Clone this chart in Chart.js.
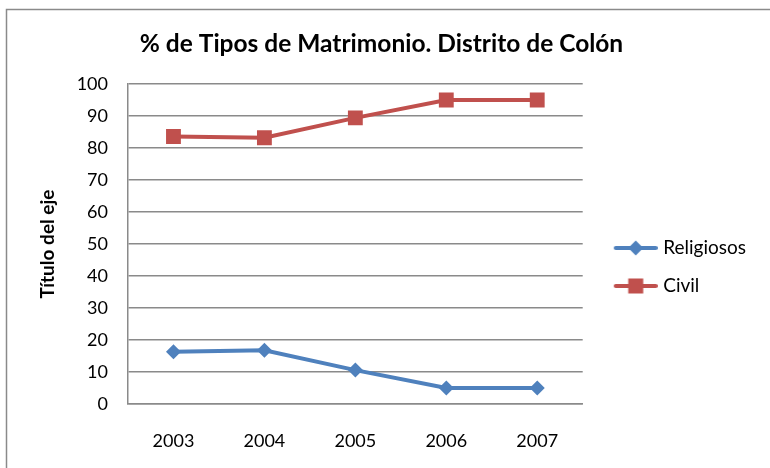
<!DOCTYPE html>
<html>
<head>
<meta charset="utf-8">
<script src="https://cdn.jsdelivr.net/npm/chart.js@4.4.1/dist/chart.umd.min.js"></script>
<style>
  html, body { margin: 0; padding: 0; background: #fff; }
  #wrap { width: 770px; height: 468px; }
</style>
</head>
<body>
<div id="wrap"><canvas id="chart" width="770" height="468"></canvas></div>
<script>
// ---------------- DATA ----------------
const years = ["2003", "2004", "2005", "2006", "2007"];
const religiosos = [16.3, 16.8, 10.6, 5.0, 5.0];
const civil = [83.6, 83.2, 89.4, 95.0, 95.0];
const seriesNames = ["Religiosos", "Civil"];

const blue = "#4F81BD";
const red = "#C0504D";
const FONT = "Lato, 'Open Sans', sans-serif";

// legend sample: a short line with the marker in the middle
function legendSample(color, shape) {
  const c = document.createElement("canvas");
  c.width = 60;
  c.height = 20;
  const g = c.getContext("2d");
  g.strokeStyle = color;
  g.lineWidth = 4;
  g.lineCap = "round";
  g.beginPath();
  g.moveTo(18, 10);
  g.lineTo(58, 10);
  g.stroke();
  g.fillStyle = color;
  if (shape === "diamond") {
    g.beginPath();
    g.moveTo(38, 2.5);
    g.lineTo(45.5, 10);
    g.lineTo(38, 17.5);
    g.lineTo(30.5, 10);
    g.closePath();
    g.fill();
  } else {
    g.fillRect(30.5, 2.5, 15, 15);
  }
  return c;
}

// ---------------- FRAME ----------------
const framePlugin = {
  id: "frame",
  beforeDraw(chart) {
    const ctx = chart.ctx;
    ctx.save();
    ctx.fillStyle = "#fff";
    ctx.fillRect(0, 0, chart.width, chart.height);
    ctx.strokeStyle = "#8a8a8a";
    ctx.lineWidth = 1.5;
    ctx.strokeRect(6.5, 9.5, 900, 600);
    ctx.restore();
  }
};

// ---------------- CHART ----------------
new Chart(document.getElementById("chart"), {
  type: "line",
  data: {
    labels: years,
    datasets: [
      {
        label: seriesNames[0],
        data: religiosos,
        borderColor: blue,
        backgroundColor: blue,
        borderWidth: 4,
        pointStyle: "rectRot",
        pointRadius: 7.5,
        pointHoverRadius: 7.5,
        pointBorderWidth: 0,
        tension: 0,
        fill: false
      },
      {
        label: seriesNames[1],
        data: civil,
        borderColor: red,
        backgroundColor: red,
        borderWidth: 4,
        pointStyle: "rect",
        pointRadius: 10.5,
        pointHoverRadius: 10.5,
        pointBorderWidth: 0,
        tension: 0,
        fill: false
      }
    ]
  },
  options: {
    responsive: false,
    animation: false,
    layout: { padding: { left: 7, top: 10, bottom: 18, right: 14 } },
    plugins: {
      title: {
        display: true,
        text: "% de Tipos de Matrimonio. Distrito de Colón",
        color: "#000",
        font: { family: FONT, size: 24.5, weight: "bold" },
        padding: { top: 19.3, bottom: 25.3 }
      },
      legend: {
        position: "right",
        // empty title only pushes the items down to where they sit in the reference
        title: { display: true, text: "", font: { size: 10 }, padding: { top: 62, bottom: 0 } },
        labels: {
          usePointStyle: true,
          pointStyleWidth: 52,
          padding: 19,
          color: "#000",
          font: { family: FONT, size: 19 },
          generateLabels: (chart) => chart.data.datasets.map((ds, i) => ({
            text: ds.label,
            datasetIndex: i,
            fontColor: "#000",
            pointStyle: legendSample(ds.borderColor, i === 0 ? "diamond" : "square"),
            lineWidth: 0,
            hidden: false
          }))
        }
      },
      tooltip: { enabled: false }
    },
    scales: {
      x: {
        offset: true,
        grid: { display: false, drawTicks: false },
        border: { display: true, color: "#8a8a8a", width: 1.5 },
        ticks: { color: "#000", padding: 26, font: { family: FONT, size: 18 } },
        afterFit: (s) => { s.height = 46; }
      },
      y: {
        min: 0,
        max: 100,
        ticks: { stepSize: 10, color: "#000", padding: 20, font: { family: FONT, size: 18 } },
        grid: { color: "#8a8a8a", lineWidth: 1.5, drawTicks: false },
        border: { display: true, color: "#8a8a8a", width: 1.5 },
        title: {
          display: true,
          text: "Título del eje",
          color: "#000",
          font: { family: FONT, size: 19, weight: "bold" },
          padding: { top: 29.6 }
        },
        afterFit: (s) => { s.width = 121; }
      }
    }
  },
  plugins: [framePlugin]
});
</script>
</body>
</html>
